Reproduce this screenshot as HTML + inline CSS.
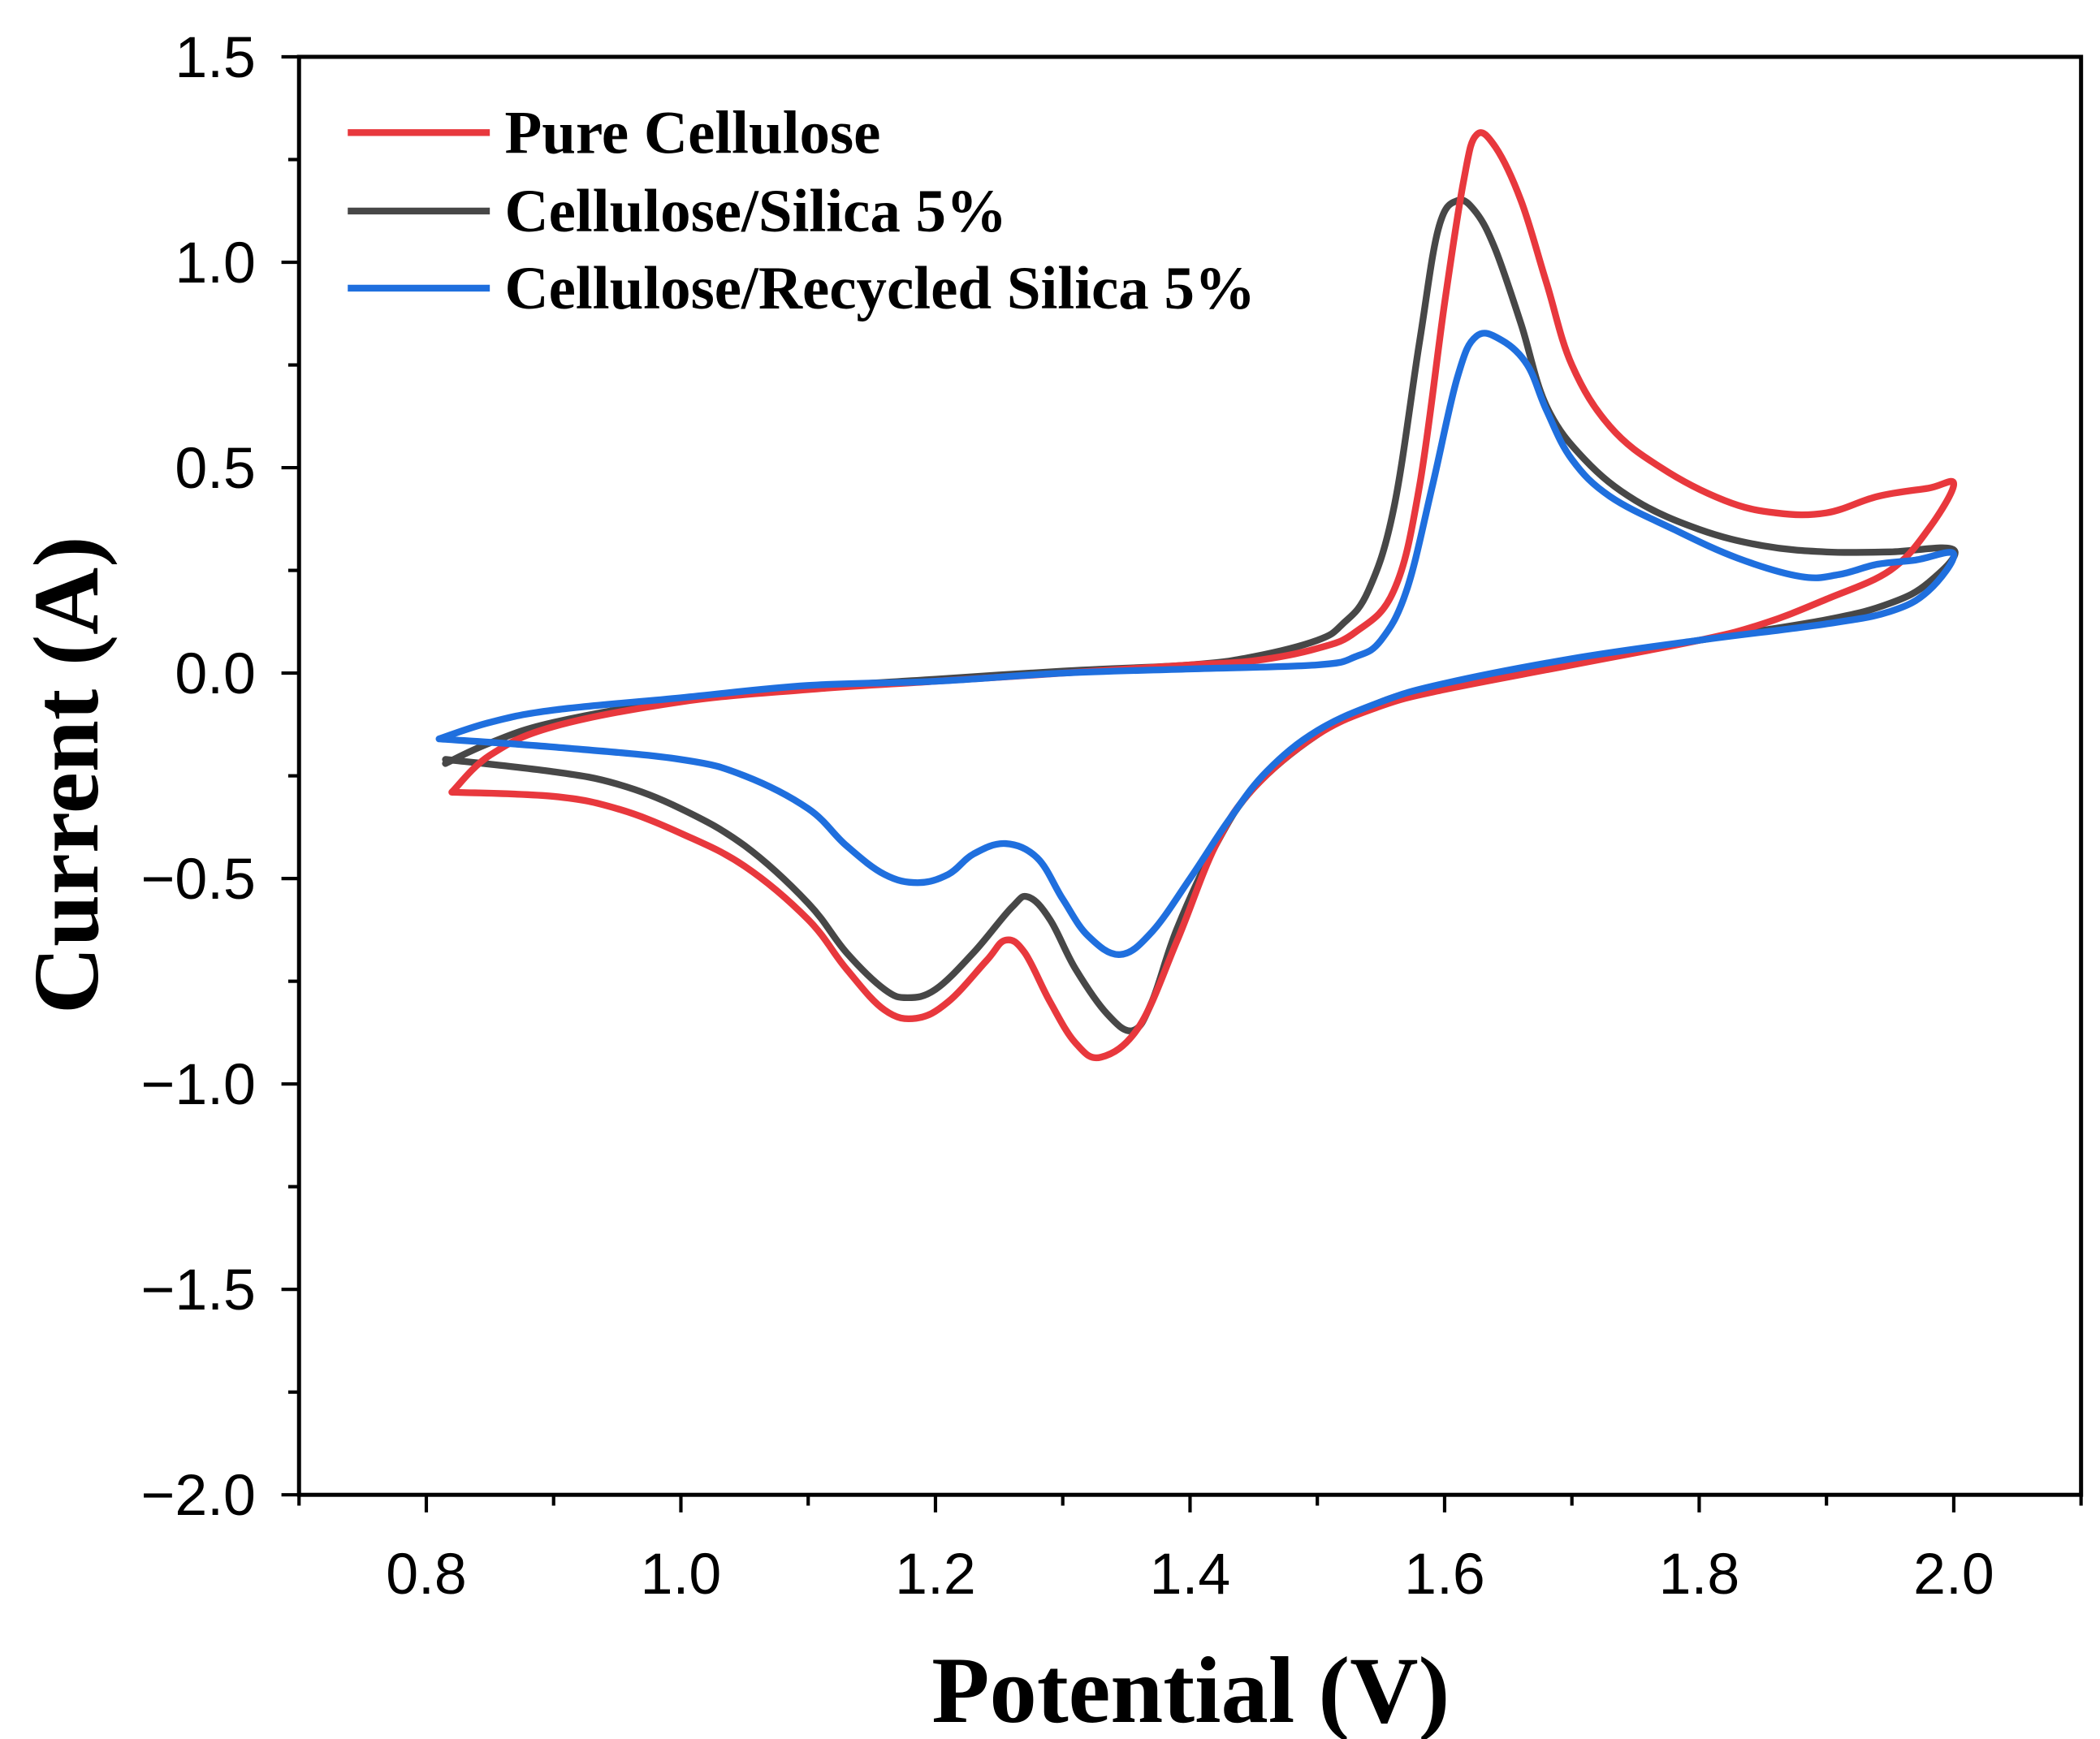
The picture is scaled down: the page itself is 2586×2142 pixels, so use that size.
<!DOCTYPE html>
<html><head><meta charset="utf-8"><style>
html,body{margin:0;padding:0;background:#fff;}
svg{display:block;}
</style></head><body>
<svg id="chart" width="2586" height="2142" viewBox="0 0 1552 1285.5" xmlns="http://www.w3.org/2000/svg">
<rect width="1552" height="1286" fill="#fff"/>
<g id="plot"></g>
</svg>
<script>
const xTicks=[0.8,1.0,1.2,1.4,1.6,1.8,2.0];
const xTickLabels=["0.8","1.0","1.2","1.4","1.6","1.8","2.0"];
const yTicks=[1.5,1.0,0.5,0.0,-0.5,-1.0,-1.5,-2.0];
const yTickLabels=["1.5","1.0","0.5","0.0","\u22120.5","\u22121.0","\u22121.5","\u22122.0"];
const seriesNames=["Pure Cellulose","Cellulose/Silica 5%","Cellulose/Recycled Silica 5%"];
const pureV=[0.82,0.85,0.9,1.0,1.1,1.2,1.3,1.4,1.45,1.5,1.53,1.56,1.58,1.6,1.615,1.625,1.64,1.66,1.68,1.7,1.73,1.77,1.82,1.86,1.9,1.94,1.98,2.0,
 1.98,1.95,1.9,1.85,1.8,1.7,1.6,1.55,1.5,1.45,1.42,1.39,1.36,1.33,1.31,1.29,1.27,1.255,1.24,1.21,1.185,1.16,1.13,1.1,1.05,1.0,0.95,0.9,0.82];
const pureI=[-0.29,-0.2,-0.13,-0.07,-0.04,-0.02,0.0,0.02,0.03,0.06,0.1,0.2,0.45,0.9,1.2,1.31,1.28,1.15,0.95,0.75,0.6,0.5,0.42,0.39,0.39,0.43,0.45,0.46,
 0.35,0.25,0.18,0.12,0.08,0.02,-0.04,-0.08,-0.15,-0.28,-0.42,-0.65,-0.86,-0.935,-0.9,-0.8,-0.68,-0.65,-0.7,-0.8,-0.84,-0.82,-0.72,-0.6,-0.47,-0.39,-0.33,-0.3,-0.29];
const silicaV=[0.815,0.85,0.9,1.0,1.1,1.2,1.3,1.4,1.45,1.5,1.52,1.54,1.56,1.58,1.595,1.61,1.625,1.64,1.66,1.68,1.71,1.75,1.8,1.85,1.9,1.95,2.0,
 1.98,1.95,1.9,1.8,1.7,1.6,1.55,1.5,1.45,1.42,1.39,1.37,1.355,1.335,1.31,1.29,1.273,1.26,1.23,1.2,1.178,1.16,1.13,1.1,1.05,1.0,0.95,0.9,0.815];
const silicaI=[-0.22,-0.17,-0.12,-0.065,-0.035,-0.015,0.005,0.02,0.04,0.08,0.12,0.2,0.4,0.8,1.08,1.15,1.12,1.03,0.85,0.65,0.52,0.42,0.35,0.31,0.295,0.295,0.3,
 0.22,0.17,0.13,0.08,0.03,-0.03,-0.07,-0.15,-0.28,-0.42,-0.62,-0.8,-0.87,-0.83,-0.72,-0.6,-0.545,-0.57,-0.68,-0.77,-0.79,-0.77,-0.68,-0.56,-0.42,-0.33,-0.27,-0.24,-0.21];
const recycledV=[0.81,0.85,0.9,1.0,1.1,1.2,1.3,1.4,1.5,1.53,1.55,1.57,1.59,1.61,1.625,1.645,1.665,1.68,1.7,1.73,1.78,1.83,1.88,1.91,1.94,1.97,2.0,
 1.98,1.95,1.9,1.8,1.7,1.6,1.55,1.5,1.46,1.43,1.4,1.37,1.345,1.32,1.3,1.28,1.255,1.23,1.21,1.186,1.16,1.13,1.1,1.05,1.0,0.9,0.81];
const recycledI=[-0.16,-0.12,-0.09,-0.06,-0.03,-0.02,0.0,0.01,0.02,0.04,0.08,0.2,0.45,0.72,0.82,0.81,0.75,0.64,0.52,0.43,0.35,0.28,0.235,0.24,0.265,0.275,0.29,
 0.2,0.15,0.12,0.08,0.035,-0.025,-0.07,-0.14,-0.24,-0.36,-0.5,-0.63,-0.685,-0.64,-0.55,-0.45,-0.415,-0.44,-0.49,-0.51,-0.49,-0.42,-0.33,-0.25,-0.21,-0.18,-0.16];

const NS="http://www.w3.org/2000/svg";
const L=221,R=1538,T=42,B=1105,X0=0.7,X1=2.1,Y0=-2.0,Y1=1.5;
function sx(v){return L+(v-X0)/(X1-X0)*(R-L);}
function sy(v){return B-(v-Y0)/(Y1-Y0)*(B-T);}
const g=document.getElementById('plot');
function mk(tag,attrs,parent){const e=document.createElementNS(NS,tag);for(const k in attrs)e.setAttribute(k,attrs[k]);(parent||g).appendChild(e);return e;}

function drawSeries(V,I,color,name){
  const P=V.map((v,i)=>[sx(v),sy(I[i])]);
  const n=P.length;
  let d='M'+P[0][0].toFixed(1)+','+P[0][1].toFixed(1);
  for(let i=0;i<n-1;i++){
    const p0=P[Math.max(0,i-1)],p1=P[i],p2=P[i+1],p3=P[Math.min(n-1,i+2)];
    const t=0.18;
    const c1=[p1[0]+(p2[0]-p0[0])*t,p1[1]+(p2[1]-p0[1])*t];
    const c2=[p2[0]-(p3[0]-p1[0])*t,p2[1]-(p3[1]-p1[1])*t];
    d+='C'+c1[0].toFixed(1)+','+c1[1].toFixed(1)+' '+c2[0].toFixed(1)+','+c2[1].toFixed(1)+' '+p2[0].toFixed(1)+','+p2[1].toFixed(1);
  }
  const p=mk('path',{d:d,fill:'none',stroke:color,'stroke-width':5,'stroke-linejoin':'round','stroke-linecap':'round'});
  
  
}
drawSeries(silicaV,silicaI,'#474747','series-cellulose-silica');
drawSeries(pureV,pureI,'#e8383d','series-pure-cellulose');
drawSeries(recycledV,recycledI,'#1f6fde','series-cellulose-recycled-silica');

const frame=mk('rect',{x:L,y:T,width:R-L,height:B-T,fill:'none',stroke:'#000','stroke-width':3});



for(let v=0.7;v<=2.1001;v+=0.1){
  const major=Math.abs(Math.round(v*10)%2)===0;
  mk('line',{x1:sx(v),x2:sx(v),y1:B,y2:B+(major?13:8),stroke:'#000','stroke-width':2.5});
}
xTicks.forEach((v,i)=>{
  const t=mk('text',{x:sx(v),y:B+73,'text-anchor':'middle','font-family':'Liberation Sans, sans-serif','font-size':43,fill:'#000'});
  t.textContent=xTickLabels[i];
  
  
});
for(let v=-2.0;v<=1.5001;v+=0.25){
  const major=Math.abs(Math.round(v*4)%2)===0;
  mk('line',{x1:L,x2:L-(major?13:8),y1:sy(v),y2:sy(v),stroke:'#000','stroke-width':2.5});
}
yTicks.forEach((v,i)=>{
  const t=mk('text',{x:L-32,y:sy(v)+15,'text-anchor':'end','font-family':'Liberation Sans, sans-serif','font-size':43,fill:'#000'});
  t.textContent=yTickLabels[i];
  
  
});
const xt=mk('text',{x:880,y:1273,'text-anchor':'middle','font-family':'Liberation Serif, serif','font-weight':'bold','font-size':70,fill:'#000'});
xt.textContent='Potential (V)';


const yt=mk('text',{x:0,y:0,transform:'translate(72,573) rotate(-90)','text-anchor':'middle','font-family':'Liberation Serif, serif','font-weight':'bold','font-size':69,fill:'#000'});
yt.textContent='Current (A)';


const colors=['#e8383d','#474747','#1f6fde'];
const ly=[98,156,213];
seriesNames.forEach((n,i)=>{
  const ln=mk('line',{x1:257,x2:362,y1:ly[i],y2:ly[i],stroke:colors[i],'stroke-width':5});
  
  
  const t=mk('text',{x:373,y:ly[i]+15,'font-family':'Liberation Serif, serif','font-weight':'bold','font-size':45,fill:'#000'});
  t.textContent=n;
  
  
});
</script>
</body></html>
